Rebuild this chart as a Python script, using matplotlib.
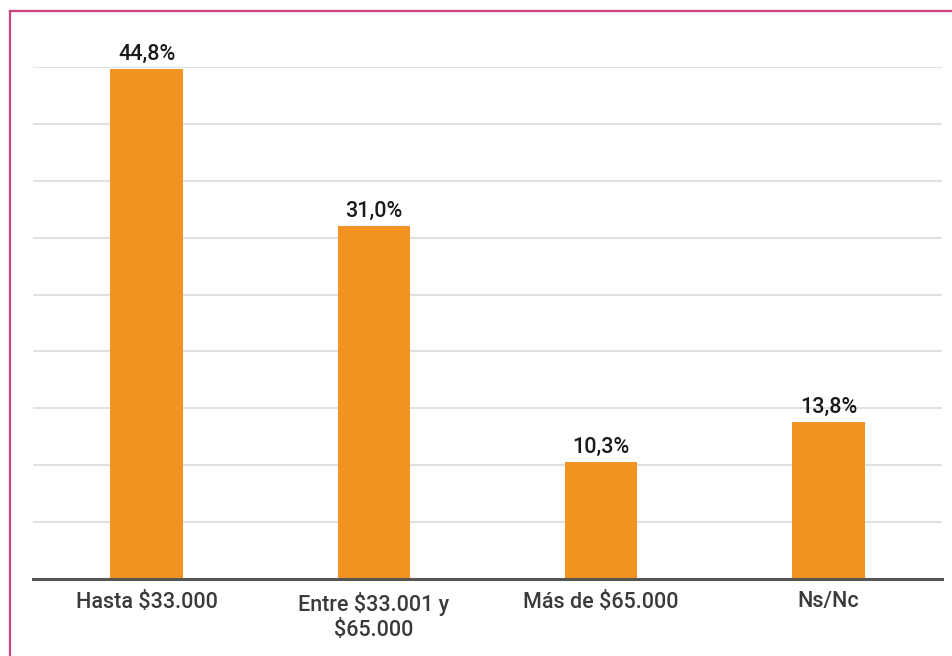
import matplotlib.pyplot as plt
from matplotlib.lines import Line2D

# data
categorias = ['Hasta $33.000', 'Entre $33.001 y\n$65.000', 'Más de $65.000', 'Ns/Nc']
valores = [44.8, 31.0, 10.3, 13.8]
etiquetas = ['44,8%', '31,0%', '10,3%', '13,8%']

plt.rcParams['font.family'] = ['Roboto', 'DejaVu Sans']

W, H = 952, 656
fig = plt.figure(figsize=(W / 100, H / 100), dpi=100)

# marco rosa (izquierda y arriba)
borde = '#C8457F'
fig.add_artist(Line2D([10 / W, 10 / W], [0, 1 - 11 / H], color=borde, lw=1.6, transform=fig.transFigure))
fig.add_artist(Line2D([10 / W, 1], [1 - 11 / H, 1 - 11 / H], color=borde, lw=1.6, transform=fig.transFigure))

ax = fig.add_axes([33 / W, 1 - 579 / H, (942 - 33) / W, (579 - 67) / H])

x = range(len(categorias))
ax.bar(x, valores, width=0.32, color='#F39322', zorder=3)

for xi, v, t in zip(x, valores, etiquetas):
    ax.text(xi, v + 0.35, t, ha='center', va='bottom', fontsize=15.5, fontweight='medium',
            color='#1a1a1a', zorder=4)

ax.set_xlim(-0.5, len(categorias) - 0.5)
ax.set_ylim(0, 45)
ax.set_yticks([5 * i for i in range(1, 10)])
ax.yaxis.grid(True, color='#DDDDDD', lw=1.3, zorder=0)
ax.tick_params(axis='y', length=0, labelleft=False)
ax.tick_params(axis='x', length=0, pad=9)
ax.set_xticks(list(x))
ax.set_xticklabels(categorias, linespacing=1.3, fontsize=15.5, fontweight='medium', color='#3a3a3a')

for s in ['top', 'right', 'left']:
    ax.spines[s].set_visible(False)
ax.spines['bottom'].set_color('#555555')
ax.spines['bottom'].set_linewidth(2.2)
ax.spines['bottom'].set_zorder(5)

plt.savefig('out.png', dpi=100)
